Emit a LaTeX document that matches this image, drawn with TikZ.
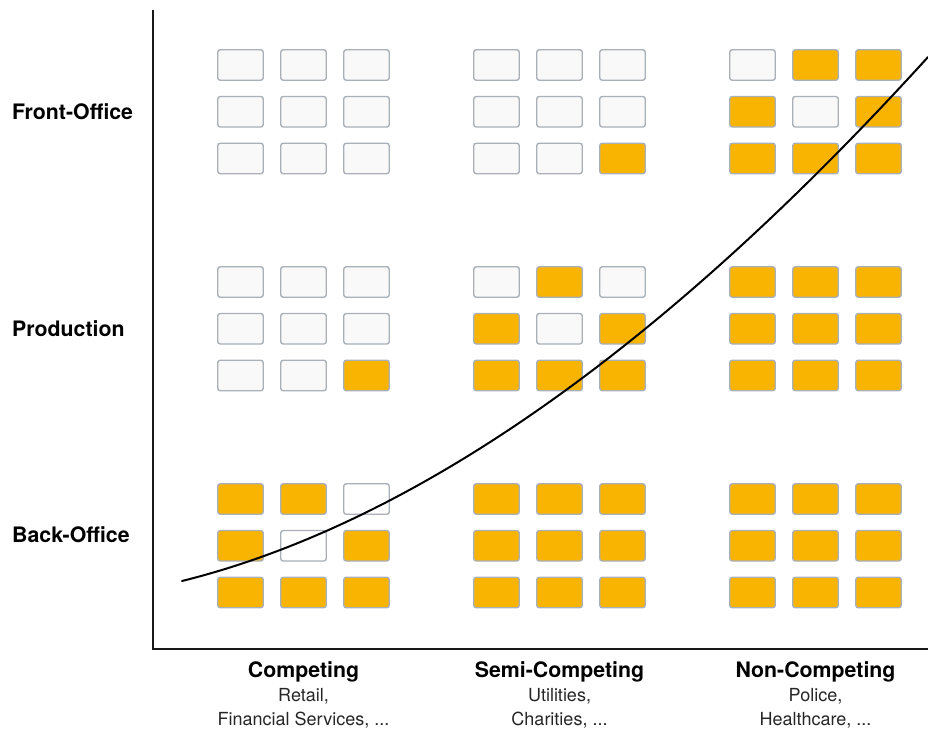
\documentclass[tikz,border=0pt]{standalone}
\usepackage{fontspec}
\setmainfont{TeX Gyre Heros}
\definecolor{amber}{HTML}{F8B400}
\definecolor{cellgrey}{HTML}{F9F9F9}
\definecolor{rim}{HTML}{A9B0B8}
\begin{document}
\begin{tikzpicture}[x=1pt,y=-1pt,
    box/.style={draw=rim, line width=1.4pt, rounded corners=2.5pt, minimum width=45.5pt, minimum height=30.5pt, inner sep=0pt},
    todo/.style={box, fill=cellgrey},
    done/.style={box, fill=amber},
    void/.style={box, fill=white},
    head/.style={font=\bfseries\fontsize{21.3}{24}\selectfont, anchor=base, inner sep=0pt},
    sub/.style={font=\fontsize{18}{24}\selectfont, text=black!85, anchor=base, inner sep=0pt}]
    \useasboundingbox (0,0) rectangle (928,742);

    % axes
    \coordinate (ytop) at (153,10);
    \coordinate (xend) at (928,649);
    \draw[line width=1.5pt, black!90] (ytop) |- (xend);

    % cells, one 3x3 group per sector and layer
    \foreach \gc/\gr/\cells in {
        0/0/{todo,todo,todo,todo,todo,todo,todo,todo,todo},
        1/0/{todo,todo,todo,todo,todo,todo,todo,todo,done},
        2/0/{todo,done,done,done,todo,done,done,done,done},
        0/1/{todo,todo,todo,todo,todo,todo,todo,todo,done},
        1/1/{todo,done,todo,done,todo,done,done,done,done},
        2/1/{done,done,done,done,done,done,done,done,done},
        0/2/{done,done,void,done,void,done,done,done,done},
        1/2/{done,done,done,done,done,done,done,done,done},
        2/2/{done,done,done,done,done,done,done,done,done}}
      \foreach \state [count=\i from 0] in \cells {
        \pgfmathsetmacro\cx{240.5+256*\gc+63*mod(\i,3)}
        \pgfmathsetmacro\cy{65+217*\gr+46.75*int(\i/3)}
        \node[style/.expanded=\state] (cell-\gc-\gr-\i) at (\cx,\cy) {};
      }

    % the curve
    \coordinate (c-start) at (182,581);
    \coordinate (c-end) at (928,57);
    \draw[line width=2pt, line cap=round] (c-start) .. controls (414.7,523) and (663.3,348.3) .. (c-end);

    % layers
    \node[head, anchor=base west] (front) at (12,119) {Front-Office};
    \node[head, anchor=base west] (prod) at (12,336) {Production};
    \node[head, anchor=base west] (back) at (12,542) {Back-Office};

    % sectors
    \node[head] (comp) at (303.5,677) {Competing};
    \node[sub] (comp-a) at (303.5,701) {Retail,};
    \node[sub] (comp-b) at (303.5,725) {Financial Services, ...};
    \node[head] (semi) at (559.5,677) {Semi-Competing};
    \node[sub] (semi-a) at (559.5,701) {Utilities,};
    \node[sub] (semi-b) at (559.5,725) {Charities, ...};
    \node[head] (non) at (815.5,677) {Non-Competing};
    \node[sub] (non-a) at (815.5,701) {Police,};
    \node[sub] (non-b) at (815.5,725) {Healthcare, ...};
\end{tikzpicture}
\end{document}
